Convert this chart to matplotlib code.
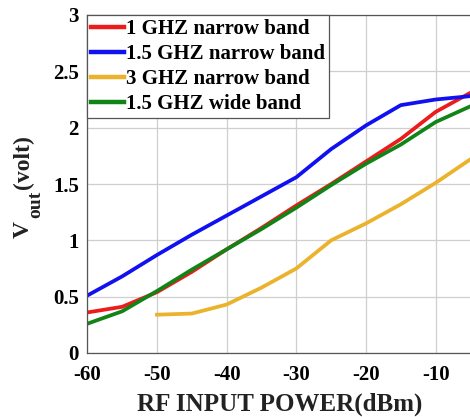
import matplotlib
matplotlib.use("Agg")
import matplotlib.pyplot as plt

power_dbm = [-60, -55, -50, -45, -40, -35, -30, -25, -20, -15, -10, -5]
vout_1ghz_nb = [0.36, 0.41, 0.54, 0.72, 0.92, 1.11, 1.31, 1.50, 1.70, 1.90, 2.14, 2.31]
vout_15ghz_nb = [0.51, 0.68, 0.87, 1.05, 1.22, 1.39, 1.56, 1.81, 2.02, 2.20, 2.25, 2.28]
power_3ghz = [-50, -45, -40, -35, -30, -25, -20, -15, -10, -5]
vout_3ghz_nb = [0.34, 0.35, 0.43, 0.58, 0.75, 1.00, 1.15, 1.32, 1.51, 1.72]
vout_15ghz_wb = [0.26, 0.37, 0.55, 0.74, 0.92, 1.10, 1.29, 1.49, 1.68, 1.85, 2.05, 2.19]

labels = ["1 GHZ narrow band", "1.5 GHZ narrow band", "3 GHZ narrow band", "1.5 GHZ wide band"]
colors = ["#ec1c1c", "#1010f0", "#ebb22c", "#118418"]
x_ticks = [-60, -50, -40, -30, -20, -10]
y_ticks = [0, 0.5, 1, 1.5, 2, 2.5, 3]
y_tick_labels = ["0", "0.5", "1", "1.5", "2", "2.5", "3"]

plt.rcParams["font.family"] = ["Liberation Serif", "DejaVu Serif"]
plt.rcParams["font.weight"] = "bold"
plt.rcParams["axes.unicode_minus"] = False

W, H = 470, 417
fig = plt.figure(figsize=(W / 100, H / 100), dpi=100)
ax = fig.add_axes([87.3 / W, (H - 353) / H, (470.5 - 87.3) / W, (353 - 15) / H])

lw = 2.7
ax.plot(power_dbm, vout_1ghz_nb, color=colors[0], lw=lw, label=labels[0])
ax.plot(power_dbm, vout_15ghz_nb, color=colors[1], lw=lw, label=labels[1])
ax.plot(power_3ghz, vout_3ghz_nb, color=colors[2], lw=lw, label=labels[2])
ax.plot(power_dbm, vout_15ghz_wb, color=colors[3], lw=lw, label=labels[3])

ax.set_xlim(-60, -5)
ax.set_ylim(0, 3)
ax.set_xticks(x_ticks)
ax.set_yticks(y_ticks)
ax.set_yticklabels(y_tick_labels)
ax.grid(True, color="#cfcfcf", lw=0.9)
ax.set_axisbelow(True)
ax.tick_params(direction="in", length=0, labelsize=15)
ax.tick_params(axis="x", pad=9)
ax.tick_params(axis="y", pad=6)
for lab in ax.get_xticklabels() + ax.get_yticklabels():
    lab.set_fontweight("bold")
for s in ax.spines.values():
    s.set_color("#555555")
    s.set_linewidth(0.9)
ax.spines["right"].set_visible(False)

# x-axis title
fig.text(280 / W, (H - 411) / H, "RF INPUT POWER(dBm)", fontsize=18,
         fontweight="bold", ha="center", va="baseline", color="#222222")

# y-axis title: V with subscript "out", then "(volt)", rotated
def vtext(px, py, s, size):
    fig.text(px / W, (H - py) / H, s, fontsize=size, fontweight="bold",
             rotation=90, rotation_mode="anchor", ha="left", va="baseline",
             color="#222222")

vtext(28.5, 238, "V", 17)
vtext(40.5, 218, "out", 14)
vtext(29.5, 189, "(volt)", 17)

leg = ax.legend(loc="upper left", bbox_to_anchor=(0.0, 1.0),
                handlelength=1.55, handletextpad=0.12, borderpad=0.2,
                labelspacing=0.24, borderaxespad=0.0, fancybox=False,
                framealpha=1.0, prop={"weight": "bold", "size": 15})
leg.get_frame().set_edgecolor("#555555")
leg.get_frame().set_linewidth(0.9)
for line in leg.get_lines():
    line.set_linewidth(3.2)

fig.savefig("out.png", dpi=100)
